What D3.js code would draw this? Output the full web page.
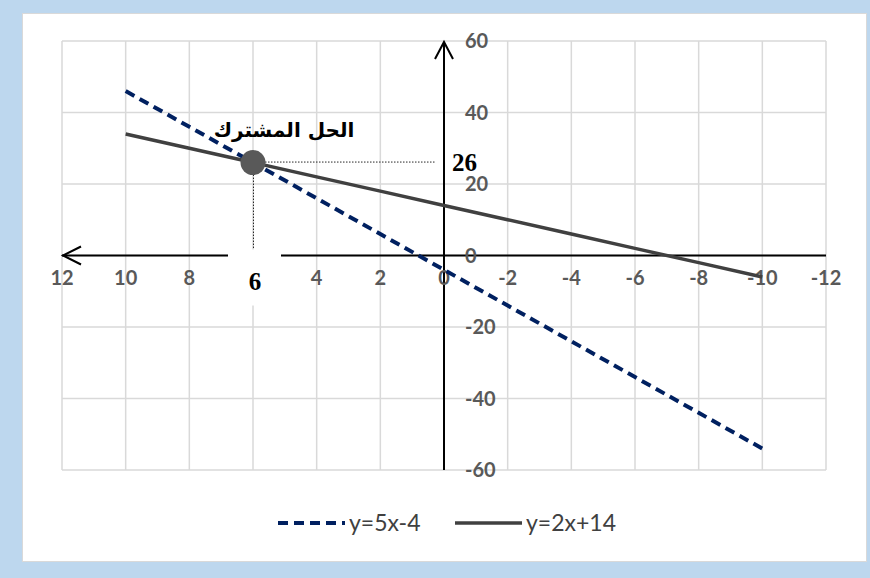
<!DOCTYPE html>
<html>
<head>
<meta charset="utf-8">
<script src="https://cdn.jsdelivr.net/npm/d3@7"></script>
<style>
  body { margin: 0; background: #bdd7ee; }
  svg { display: block; }
</style>
</head>
<body>
<div id="chart"></div>
<script>
const xValues = [10, 8, 6, 4, 2, 0, -2, -4, -6, -8, -10]
const line1Values = [46, 36, 26, 16, 6, -4, -14, -24, -34, -44, -54]
const line2Values = [34, 30, 26, 22, 18, 14, 10, 6, 2, -2, -6]
const seriesNames = ['y=5x-4', 'y=2x+14']
const xTicks = [12, 10, 8, 6, 4, 2, 0, -2, -4, -6, -8, -10, -12]
const yTicks = [-60, -40, -20, 0, 20, 40, 60]
const solution = { x: 6, y: 26, label: 'الحل المشترك' }

const width = 870, height = 578

const svg = d3.select('#chart')
    .append('svg')
    .attr('width', width)
    .attr('height', height)

svg.append('rect')
    .attr('width', width)
    .attr('height', height)
    .attr('fill', '#bdd7ee')

svg.append('rect')
    .attr('x', 22.5)
    .attr('y', 13.5)
    .attr('width', 844)
    .attr('height', 548)
    .attr('fill', 'white')
    .attr('stroke', '#d9d9d9')

const x = d3.scaleLinear().domain([12, -12]).range([62, 826])
const y = d3.scaleLinear().domain([-60, 60]).range([470, 41])

// grid
const grid = svg.append('g')
grid.selectAll('.vgrid')
    .data(xTicks)
    .enter()
    .append('line')
    .attr('x1', d => x(d)).attr('x2', d => x(d))
    .attr('y1', y(60)).attr('y2', y(-60))
    .attr('stroke', '#d9d9d9')
    .attr('stroke-width', 1.5)
grid.selectAll('.hgrid')
    .data(yTicks)
    .enter()
    .append('line')
    .attr('x1', x(12)).attr('x2', x(-12))
    .attr('y1', d => y(d)).attr('y2', d => y(d))
    .attr('stroke', '#d9d9d9')
    .attr('stroke-width', 1.5)

// axes with arrows
const axes = svg.append('g')
    .attr('stroke', 'black')
    .attr('stroke-width', 2)
    .attr('fill', 'none')
axes.append('line')
    .attr('x1', x(12)).attr('x2', x(-12))
    .attr('y1', y(0)).attr('y2', y(0))
axes.append('path')
    .attr('d', `M${x(12) + 19},${y(0) - 9}L${x(12) + 1},${y(0)}L${x(12) + 19},${y(0) + 9}`)
axes.append('line')
    .attr('x1', x(0)).attr('x2', x(0))
    .attr('y1', y(-60)).attr('y2', y(60) + 1)
axes.append('path')
    .attr('d', `M${x(0) - 9},${y(60) + 18}L${x(0)},${y(60) + 1}L${x(0) + 9},${y(60) + 18}`)

// tick labels (the solution's x gets its own label)
svg.selectAll('.xlabel')
    .data(xTicks.filter(d => d !== solution.x))
    .enter()
    .append('text')
    .attr('x', d => x(d))
    .attr('y', y(0) + 29)
    .attr('text-anchor', 'middle')
    .attr('font-family', 'Lato')
    .attr('font-weight', 'bold')
    .attr('font-size', 20)
    .attr('fill', '#595959')
    .text(d => d)

svg.selectAll('.ylabel')
    .data(yTicks)
    .enter()
    .append('text')
    .attr('x', x(0) + 21)
    .attr('y', d => y(d) + 7)
    .attr('font-family', 'Lato')
    .attr('font-weight', 'bold')
    .attr('font-size', 20)
    .attr('fill', '#595959')
    .text(d => d)

// data lines
const pts1 = xValues.map((d, i) => [d, line1Values[i]])
const pts2 = xValues.map((d, i) => [d, line2Values[i]])
const lineGen = d3.line().x(d => x(d[0])).y(d => y(d[1]))

svg.append('path')
    .datum(pts2)
    .attr('d', lineGen)
    .attr('fill', 'none')
    .attr('stroke', '#404040')
    .attr('stroke-width', 3.5)

svg.append('path')
    .datum(pts1)
    .attr('d', lineGen)
    .attr('fill', 'none')
    .attr('stroke', '#002060')
    .attr('stroke-width', 4)
    .attr('stroke-dasharray', '10,6')

// solution guides
svg.append('line')
    .attr('x1', x(solution.x)).attr('x2', x(0) - 8)
    .attr('y1', y(solution.y) - 0.5).attr('y2', y(solution.y) - 0.5)
    .attr('stroke', '#262626')
    .attr('stroke-width', 1)
    .attr('stroke-dasharray', '1.5,1.5')
svg.append('line')
    .attr('x1', x(solution.x) + 0.5).attr('x2', x(solution.x) + 0.5)
    .attr('y1', y(solution.y)).attr('y2', y(0) - 6)
    .attr('stroke', '#262626')
    .attr('stroke-width', 1)
    .attr('stroke-dasharray', '1.5,1.5')

svg.append('rect')
    .attr('x', x(solution.x) - 25)
    .attr('y', y(0) - 6)
    .attr('width', 53)
    .attr('height', 56)
    .attr('fill', 'white')

svg.append('circle')
    .attr('cx', x(solution.x))
    .attr('cy', y(solution.y))
    .attr('r', 12.5)
    .attr('fill', '#595959')

svg.append('text')
    .attr('x', x(solution.x) + 2)
    .attr('y', y(0) + 34)
    .attr('text-anchor', 'middle')
    .attr('font-family', 'Liberation Serif')
    .attr('font-weight', 'bold')
    .attr('font-size', 25)
    .attr('fill', 'black')
    .text(solution.x)

svg.append('text')
    .attr('x', x(0) + 8)
    .attr('y', y(solution.y) + 8)
    .attr('font-family', 'Liberation Serif')
    .attr('font-weight', 'bold')
    .attr('font-size', 25)
    .attr('fill', 'black')
    .text(solution.y)

svg.append('text')
    .attr('x', x(solution.x) + 31)
    .attr('y', y(solution.y) - 26)
    .attr('text-anchor', 'middle')
    .attr('direction', 'rtl')
    .attr('font-family', 'DejaVu Sans')
    .attr('font-weight', 'bold')
    .attr('font-size', 20)
    .attr('fill', 'black')
    .text(solution.label)

// legend
const legend = svg.append('g')
const legendItems = [
    { name: seriesNames[0], x: 278, color: '#002060', dash: '10,6', w: 4 },
    { name: seriesNames[1], x: 455, color: '#404040', dash: null, w: 3.5 }
]
legendItems.forEach(item => {
    legend.append('line')
        .attr('x1', item.x).attr('x2', item.x + 67)
        .attr('y1', 523).attr('y2', 523)
        .attr('stroke', item.color)
        .attr('stroke-width', item.w)
        .attr('stroke-dasharray', item.dash)
    legend.append('text')
        .attr('x', item.x + 71)
        .attr('y', 531)
        .attr('font-family', 'Lato')
        .attr('font-size', 23)
        .attr('fill', '#404040')
        .text(item.name)
})
</script>
</body>
</html>
